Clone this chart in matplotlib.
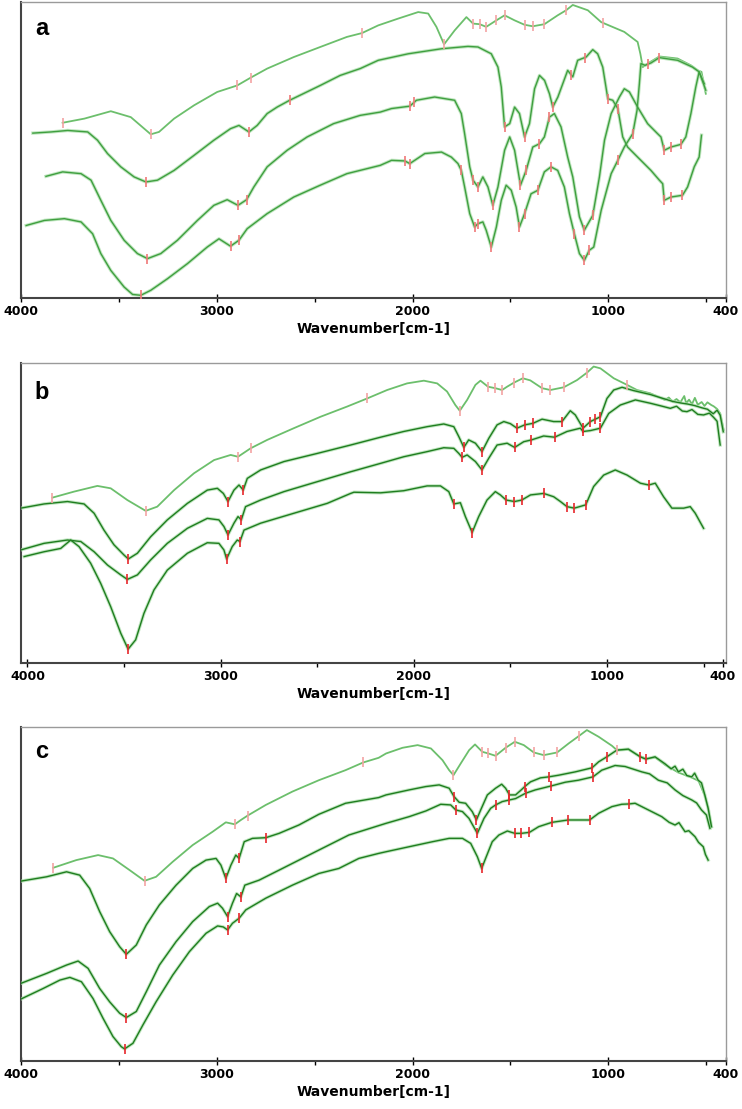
import numpy as np
import matplotlib
matplotlib.use('Agg')
import matplotlib.pyplot as plt
from matplotlib.ticker import FixedLocator

# ---- panel a ----
a1_wn = [3786, 3675, 3540, 3438, 3336, 3294, 3217, 3115, 2997, 2895, 2827, 2742, 2606, 2471, 2335, 2258, 2175, 2073, 1971, 1920, 1878, 1839, 1785, 1725, 1691, 1657, 1624, 1572, 1530, 1479, 1428, 1386, 1327, 1259, 1216, 1182, 1105, 1037, 919, 851, 837, 825, 800, 740, 647, 579, 545, 525, 503]
a1_t = [59.2, 60.6, 63.1, 61.1, 55.3, 56.1, 60.6, 65.1, 69.6, 71.8, 74.4, 77.5, 81.4, 84.8, 88.2, 89.5, 92.1, 94.4, 96.6, 96.1, 91.6, 85.7, 90.4, 94.9, 92.7, 92.5, 91.6, 93.8, 95.5, 93.8, 92.3, 91.8, 92.5, 95.5, 97.2, 99.0, 97.2, 93.2, 89.9, 86.5, 82.5, 78.0, 79.2, 81.6, 80.9, 78.6, 76.9, 76.4, 69.0]
a2_wn = [3938, 3845, 3760, 3658, 3608, 3557, 3489, 3421, 3361, 3302, 3217, 3115, 3014, 2929, 2886, 2835, 2793, 2742, 2691, 2627, 2471, 2369, 2267, 2175, 2022, 1852, 1717, 1666, 1598, 1564, 1547, 1530, 1504, 1479, 1454, 1428, 1403, 1377, 1352, 1326, 1301, 1284, 1258, 1233, 1208, 1182, 1157, 1114, 1080, 1055, 1029, 1003, 978, 952, 927, 902, 851, 783, 740, 723, 715, 681, 622, 596, 562, 537, 525]
a2_t = [55.7, 56.1, 56.6, 56.1, 53.3, 48.8, 44.3, 40.9, 39.2, 39.8, 43.1, 48.2, 53.3, 57.2, 58.3, 56.1, 58.3, 62.3, 64.5, 66.8, 71.8, 75.2, 77.5, 80.3, 82.5, 84.2, 85.0, 84.8, 82.5, 78.0, 71.3, 57.8, 58.9, 64.5, 62.3, 54.4, 58.9, 70.7, 75.2, 73.5, 69.0, 64.5, 67.9, 72.4, 76.9, 74.7, 80.3, 81.4, 83.9, 82.5, 78.0, 67.3, 66.8, 64.0, 54.4, 51.0, 47.6, 43.1, 39.8, 38.6, 33.0, 34.1, 34.7, 37.5, 44.3, 47.6, 55.0]
a3_wn = [3871, 3786, 3692, 3641, 3591, 3540, 3472, 3404, 3353, 3285, 3200, 3098, 3014, 2946, 2891, 2847, 2810, 2742, 2640, 2538, 2403, 2267, 2165, 2107, 2014, 1980, 1887, 1785, 1751, 1734, 1708, 1691, 1666, 1641, 1615, 1590, 1564, 1530, 1504, 1479, 1449, 1420, 1386, 1352, 1327, 1301, 1276, 1242, 1208, 1182, 1148, 1123, 1080, 1046, 1020, 986, 944, 919, 893, 851, 800, 749, 732, 715, 681, 630, 605, 579, 554, 537, 511]
a3_t = [41.1, 42.6, 42.0, 39.8, 33.0, 26.2, 19.5, 15.0, 13.3, 15.0, 19.5, 26.2, 31.3, 33.2, 31.3, 33.2, 37.5, 44.3, 49.9, 54.4, 58.9, 61.7, 62.8, 64.0, 64.8, 66.8, 67.9, 66.8, 62.3, 55.5, 44.3, 39.8, 37.5, 40.9, 37.5, 31.3, 37.5, 49.9, 54.4, 49.9, 38.1, 43.1, 51.0, 52.1, 54.4, 61.1, 62.3, 57.8, 47.6, 40.9, 27.4, 22.9, 27.9, 40.9, 53.3, 62.3, 67.9, 70.7, 69.6, 64.5, 58.9, 55.5, 54.4, 49.9, 51.0, 51.9, 54.4, 62.3, 71.3, 76.4, 72.4]
a4_wn = [3972, 3879, 3777, 3692, 3633, 3591, 3540, 3472, 3429, 3387, 3336, 3251, 3149, 3048, 2988, 2929, 2886, 2844, 2742, 2606, 2471, 2335, 2165, 2107, 2039, 2014, 1937, 1852, 1802, 1768, 1751, 1734, 1708, 1683, 1666, 1641, 1624, 1598, 1572, 1547, 1522, 1496, 1471, 1454, 1428, 1395, 1360, 1327, 1293, 1259, 1225, 1199, 1174, 1148, 1123, 1098, 1075, 1037, 986, 952, 919, 876, 854, 842, 834, 813, 783, 740, 647, 571, 537, 503]
a4_t = [24.5, 26.2, 26.8, 25.7, 21.7, 15.0, 9.3, 3.7, 1.2, 0.9, 2.6, 6.5, 11.6, 17.2, 20.0, 17.5, 19.5, 23.4, 28.5, 34.1, 38.1, 42.0, 44.8, 46.5, 46.3, 45.4, 48.8, 49.3, 47.6, 45.4, 43.1, 37.5, 28.5, 24.0, 25.1, 25.7, 22.9, 17.2, 24.0, 33.0, 38.1, 36.4, 30.7, 24.0, 28.5, 35.2, 36.4, 42.6, 44.3, 43.1, 37.5, 28.5, 21.7, 15.0, 12.7, 16.1, 17.2, 29.6, 42.0, 46.5, 51.0, 55.5, 63.4, 72.4, 79.2, 78.6, 79.4, 81.2, 80.3, 78.0, 76.4, 70.2]
a1_pk = [3786, 3336, 2895, 2827, 2258, 1839, 1691, 1657, 1624, 1572, 1530, 1428, 1386, 1327, 1216, 1029]
a2_pk = [3361, 2835, 2627, 1530, 1428, 1284, 1190, 1122, 1003, 952, 715, 681, 622]
a3_pk = [3353, 2891, 2847, 2014, 1990, 1691, 1666, 1590, 1449, 1420, 1352, 1301, 1123, 1080, 715, 681, 630]
a4_pk = [3387, 2929, 2886, 2039, 2014, 1751, 1683, 1666, 1598, 1454, 1428, 1360, 1293, 1174, 1123, 1098, 952, 876, 800, 740]

# ---- panel b ----
b1_wn = [3871, 3759, 3638, 3569, 3483, 3388, 3328, 3241, 3138, 3034, 2948, 2910, 2845, 2759, 2621, 2483, 2345, 2241, 2138, 2035, 1948, 1879, 1828, 1785, 1762, 1724, 1681, 1655, 1616, 1578, 1543, 1517, 1483, 1436, 1397, 1336, 1293, 1224, 1155, 1103, 1069, 1034, 965, 896, 845, 776, 700, 680, 660, 640, 620, 600, 590, 575, 560, 545, 530, 510, 495, 480, 460, 448, 430, 414, 396]
b1_t = [55.1, 57.1, 59.0, 58.2, 54.3, 50.7, 52.1, 57.6, 63.2, 67.6, 69.3, 68.7, 71.5, 74.3, 78.2, 82.0, 85.4, 88.1, 90.9, 93.1, 94.0, 93.1, 90.4, 85.9, 84.0, 87.6, 92.6, 94.0, 92.0, 91.5, 90.9, 92.0, 93.3, 94.8, 94.1, 91.5, 90.9, 91.8, 94.2, 96.7, 98.7, 98.1, 94.8, 92.6, 90.9, 89.8, 87.6, 88.4, 87.0, 87.9, 86.8, 88.9, 86.5, 87.7, 86.2, 88.3, 86.0, 86.9, 85.6, 86.8, 85.9, 85.5, 84.6, 83.1, 77.6]
b2_wn = [4035, 3914, 3793, 3707, 3655, 3604, 3552, 3500, 3478, 3431, 3362, 3276, 3172, 3069, 3017, 2986, 2962, 2931, 2905, 2883, 2862, 2793, 2672, 2500, 2327, 2172, 2052, 1931, 1845, 1793, 1767, 1741, 1716, 1681, 1647, 1612, 1569, 1534, 1500, 1466, 1426, 1384, 1336, 1276, 1233, 1190, 1164, 1124, 1086, 1060, 1034, 1000, 965, 922, 862, 776, 700, 660, 620, 580, 545, 510, 480, 450, 430, 414, 398]
b2_t = [51.6, 53.0, 53.8, 53.0, 49.9, 44.3, 39.4, 36.0, 34.7, 36.6, 42.1, 47.7, 53.2, 57.6, 58.2, 56.5, 53.8, 57.6, 59.3, 57.6, 61.5, 64.3, 67.1, 69.8, 72.6, 75.2, 77.1, 78.7, 79.6, 78.7, 75.4, 71.8, 74.3, 73.2, 70.4, 74.8, 79.3, 80.4, 79.7, 78.2, 79.3, 79.8, 81.2, 80.4, 80.4, 84.0, 82.6, 78.2, 80.4, 81.2, 82.0, 88.1, 90.9, 91.8, 90.7, 89.4, 87.9, 87.1, 86.6, 86.2, 85.7, 85.0, 84.5, 83.0, 84.2, 82.5, 77.0]
b3_wn = [4035, 3914, 3793, 3724, 3655, 3586, 3517, 3483, 3431, 3362, 3276, 3172, 3069, 3009, 2983, 2962, 2931, 2910, 2893, 2871, 2793, 2672, 2500, 2327, 2172, 2052, 1931, 1845, 1793, 1767, 1750, 1724, 1681, 1647, 1612, 1569, 1517, 1478, 1431, 1391, 1328, 1271, 1207, 1138, 1124, 1086, 1034, 991, 931, 853, 776, 720, 672, 640, 610, 586, 560, 530, 500, 470, 448, 430, 414]
b3_t = [37.7, 39.9, 41.0, 40.5, 37.1, 32.7, 29.4, 27.9, 29.4, 34.4, 39.9, 44.9, 48.2, 47.7, 45.5, 42.7, 46.6, 48.8, 47.7, 52.1, 54.3, 57.1, 60.4, 63.7, 66.5, 68.7, 70.4, 71.7, 71.5, 69.8, 68.5, 69.3, 67.1, 64.3, 68.2, 72.6, 73.2, 71.8, 73.7, 74.3, 75.6, 75.2, 77.1, 78.2, 77.1, 77.4, 78.2, 83.1, 85.9, 87.6, 86.5, 85.6, 84.8, 85.5, 83.9, 83.7, 84.4, 82.8, 82.6, 83.2, 81.8, 80.5, 72.6]
b4_wn = [4017, 3914, 3828, 3776, 3733, 3673, 3621, 3569, 3517, 3479, 3440, 3397, 3345, 3276, 3172, 3069, 3009, 2983, 2969, 2940, 2914, 2900, 2879, 2793, 2621, 2448, 2327, 2310, 2172, 2052, 1931, 1862, 1819, 1793, 1759, 1733, 1698, 1664, 1621, 1578, 1552, 1522, 1479, 1441, 1396, 1328, 1276, 1241, 1207, 1169, 1110, 1069, 1017, 957, 896, 827, 784, 750, 707, 664, 603, 569, 543, 500]
b4_t = [35.5, 37.1, 38.2, 41.0, 38.8, 33.3, 26.6, 18.8, 10.0, 4.7, 7.8, 16.6, 24.4, 31.0, 36.6, 40.1, 39.9, 37.7, 34.7, 38.8, 41.0, 40.5, 44.3, 46.6, 49.9, 53.2, 56.5, 56.9, 56.7, 57.4, 59.0, 59.0, 57.1, 53.0, 53.4, 48.8, 43.5, 48.8, 54.3, 57.1, 56.0, 54.3, 53.8, 54.3, 56.0, 56.5, 55.4, 53.8, 52.1, 51.6, 52.7, 58.8, 62.6, 64.3, 62.6, 59.9, 59.3, 59.9, 55.4, 51.6, 51.6, 52.1, 49.9, 44.9]
b1_pk = [3871, 3388, 2910, 2845, 2242, 1762, 1616, 1578, 1543, 1483, 1436, 1336, 1293, 1224, 1103, 896]
b2_pk = [3478, 2962, 2883, 1741, 1647, 1466, 1426, 1384, 1233, 1124, 1086, 1060, 1034]
b3_pk = [3483, 2962, 2893, 1750, 1647, 1478, 1391, 1271, 1124, 1034]
b4_pk = [3479, 2969, 2900, 1793, 1698, 1522, 1479, 1441, 1328, 1207, 1169, 1110, 784]

# ---- panel c ----
c1_wn = [3834, 3716, 3605, 3529, 3444, 3368, 3309, 3224, 3122, 3020, 2953, 2907, 2876, 2842, 2749, 2613, 2478, 2342, 2252, 2173, 2135, 2051, 1974, 1906, 1847, 1813, 1791, 1754, 1711, 1681, 1644, 1613, 1576, 1525, 1478, 1432, 1381, 1330, 1262, 1203, 1149, 1110, 1050, 982, 957, 898, 840, 810, 760, 711, 643, 575, 540, 508, 490, 474]
c1_t = [57.8, 60.1, 61.6, 60.6, 57.1, 53.9, 55.1, 59.6, 64.6, 68.6, 71.4, 70.8, 72.1, 73.4, 76.6, 80.6, 84.0, 87.0, 89.3, 90.7, 92.0, 93.7, 94.5, 93.5, 90.0, 87.0, 85.5, 89.0, 93.0, 94.7, 92.5, 92.0, 91.3, 93.7, 95.5, 94.5, 92.3, 91.5, 92.3, 95.0, 97.3, 99.0, 97.0, 94.3, 93.0, 93.2, 91.2, 90.5, 90.8, 88.6, 86.3, 84.8, 83.8, 79.4, 75.4, 70.0]
c2_wn = [4000, 3868, 3766, 3699, 3648, 3597, 3546, 3495, 3461, 3410, 3359, 3292, 3207, 3122, 3054, 3003, 2978, 2953, 2927, 2902, 2885, 2859, 2817, 2749, 2681, 2580, 2478, 2342, 2173, 2135, 2017, 1932, 1864, 1813, 1788, 1762, 1729, 1695, 1674, 1652, 1618, 1576, 1545, 1525, 1505, 1474, 1445, 1427, 1398, 1347, 1305, 1254, 1169, 1084, 1050, 1008, 957, 898, 838, 809, 762, 711, 680, 660, 643, 620, 600, 575, 560, 542, 525, 508, 491, 474]
c2_t = [53.8, 55.1, 56.6, 55.6, 51.6, 44.7, 38.7, 34.2, 31.9, 34.7, 40.7, 46.7, 52.6, 57.6, 60.1, 60.6, 58.6, 54.6, 58.6, 61.6, 60.6, 65.6, 66.6, 66.8, 68.1, 70.6, 73.8, 77.1, 78.8, 79.6, 81.1, 82.1, 82.6, 81.6, 79.1, 77.4, 77.1, 74.6, 72.1, 75.1, 79.6, 81.6, 82.8, 81.6, 79.6, 79.6, 81.1, 82.1, 83.5, 84.7, 85.0, 85.5, 86.5, 87.7, 89.5, 91.0, 93.0, 93.3, 91.0, 90.3, 91.0, 88.9, 87.4, 88.2, 86.5, 87.3, 85.4, 85.0, 86.1, 84.0, 83.2, 79.6, 75.6, 70.1]
c3_wn = [4000, 3868, 3766, 3707, 3656, 3597, 3546, 3495, 3461, 3410, 3359, 3292, 3207, 3122, 3037, 2995, 2970, 2944, 2919, 2898, 2876, 2856, 2783, 2664, 2495, 2325, 2173, 2135, 2017, 1932, 1856, 1805, 1779, 1745, 1712, 1669, 1635, 1601, 1576, 1542, 1505, 1474, 1423, 1373, 1291, 1220, 1153, 1079, 1034, 966, 915, 830, 790, 745, 700, 660, 620, 575, 550, 525, 500, 482]
c3_t = [23.2, 26.2, 28.7, 29.9, 27.7, 21.7, 17.7, 14.3, 13.0, 14.8, 20.7, 28.7, 35.7, 41.7, 46.2, 47.2, 45.7, 43.2, 47.2, 50.1, 49.1, 52.6, 54.1, 57.6, 62.6, 67.6, 70.4, 71.1, 73.1, 74.8, 76.8, 76.6, 75.1, 74.6, 72.6, 68.1, 72.6, 75.6, 76.6, 77.6, 78.1, 78.5, 80.1, 81.1, 82.3, 83.4, 84.0, 85.0, 87.0, 88.4, 88.1, 86.5, 85.9, 84.0, 83.2, 81.1, 79.4, 78.1, 77.2, 75.1, 73.6, 69.6]
c4_wn = [4000, 3885, 3800, 3749, 3690, 3631, 3580, 3529, 3487, 3470, 3427, 3376, 3309, 3224, 3139, 3054, 2995, 2966, 2944, 2919, 2885, 2851, 2749, 2613, 2478, 2376, 2274, 2173, 2135, 2017, 1898, 1813, 1745, 1703, 1669, 1647, 1627, 1593, 1559, 1516, 1478, 1445, 1403, 1356, 1288, 1206, 1096, 1050, 982, 932, 894, 864, 796, 728, 690, 660, 640, 609, 590, 558, 540, 516, 505, 491]
c4_t = [18.5, 21.7, 24.2, 25.0, 23.7, 18.7, 12.8, 7.3, 4.3, 3.6, 5.3, 10.8, 17.7, 25.7, 32.7, 38.2, 40.4, 40.1, 39.2, 41.2, 42.7, 45.2, 48.7, 52.6, 56.1, 57.6, 60.6, 62.1, 62.6, 64.1, 65.6, 66.6, 66.6, 65.1, 61.1, 57.6, 60.6, 65.6, 67.6, 68.8, 68.1, 68.1, 68.4, 70.1, 71.4, 72.1, 72.1, 74.1, 76.1, 76.8, 76.9, 77.1, 75.1, 73.1, 71.4, 70.6, 71.3, 68.6, 68.9, 67.1, 65.4, 64.1, 61.8, 60.1]
c1_pk = [3834, 3368, 2907, 2842, 2252, 1791, 1644, 1613, 1576, 1525, 1478, 1381, 1330, 1262, 1149, 957]
c2_pk = [3461, 2953, 2885, 2749, 1788, 1674, 1505, 1427, 1305, 1084, 1008, 838, 809]
c3_pk = [3461, 2944, 2876, 1779, 1669, 1576, 1505, 1423, 1291, 1079]
c4_pk = [3470, 2944, 2885, 1647, 1478, 1445, 1403, 1288, 1206, 1096, 894]

major_ticks = [4000, 3000, 2000, 1000, 400]
minor_ticks = [3500, 2500, 1500, 500]

light = '#6cbf6c'
halo = '#a6dca6'

panels = [
    ('a', [0.0279, 0.7313, 0.9505, 0.2669], (4000, 400), 0.89, '#3f9f3f', '#f07878',
     [(a1_wn, a1_t, a1_pk), (a2_wn, a2_t, a2_pk), (a3_wn, a3_t, a3_pk), (a4_wn, a4_t, a4_pk)]),
    ('b', [0.0279, 0.4019, 0.9505, 0.2711], (4035, 384), 0.878, '#1f7d1f', '#e8262b',
     [(b1_wn, b1_t, b1_pk), (b2_wn, b2_t, b2_pk), (b3_wn, b3_t, b3_pk), (b4_wn, b4_t, b4_pk)]),
    ('c', [0.0279, 0.0433, 0.9505, 0.3014], (4000, 400), 0.905, '#1f7d1f', '#e8262b',
     [(c1_wn, c1_t, c1_pk), (c2_wn, c2_t, c2_pk), (c3_wn, c3_t, c3_pk), (c4_wn, c4_t, c4_pk)]),
]

fig = plt.figure(figsize=(7.42, 11.09), dpi=100)

for label, rect, xlim, ly, dark, mk, curves in panels:
    ax = fig.add_axes(rect)
    for i, (wn, t, pk) in enumerate(curves):
        wn = np.array(wn, dtype=float)
        t = np.array(t, dtype=float)
        if i == 0:
            ax.plot(wn, t, color=light, lw=1.3, zorder=2)
            mcol = '#f4a3a3'
        else:
            ax.plot(wn, t, color=halo, lw=2.4, alpha=0.7, zorder=3)
            ax.plot(wn, t, color=dark, lw=1.0, zorder=4)
            mcol = mk
        py = np.interp(pk, wn[::-1], t[::-1])
        ax.plot(pk, py, ls='none', marker='|', ms=7, mew=1.2, color=mcol, zorder=5)

    ax.set_xlim(xlim)
    ax.set_ylim(0, 100)
    ax.set_yticks([])
    ax.xaxis.set_major_locator(FixedLocator(major_ticks))
    ax.xaxis.set_minor_locator(FixedLocator(minor_ticks))
    ax.set_xticklabels([str(v) for v in major_ticks])
    ax.tick_params(axis='x', which='major', direction='inout', length=6, width=1,
                   labelsize=9, pad=2)
    ax.tick_params(axis='x', which='minor', direction='out', length=3, width=1)
    for lab in ax.get_xticklabels():
        lab.set_fontweight('bold')
        lab.set_family('DejaVu Sans')
    ax.set_xlabel('Wavenumber[cm-1]', fontsize=10, fontweight='bold', labelpad=3)
    for s in ['left', 'bottom']:
        ax.spines[s].set_color('#444444')
        ax.spines[s].set_linewidth(1.5)
    for s in ['top', 'right']:
        ax.spines[s].set_color('#9a9a9a')
        ax.spines[s].set_linewidth(1.0)
    ax.text(0.02, ly, label, transform=ax.transAxes, fontsize=17, fontweight='bold',
            family='Liberation Sans', ha='left', va='baseline')

fig.savefig('out.png', dpi=100)
